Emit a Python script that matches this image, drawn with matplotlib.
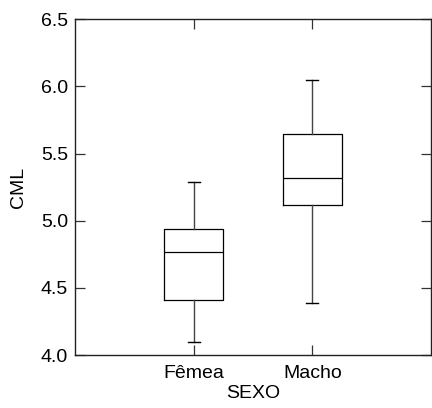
import matplotlib
matplotlib.use("Agg")
import matplotlib.pyplot as plt

plt.rcParams['font.family'] = ['Liberation Sans', 'DejaVu Sans']

# CML summary per sex
categories = ["Fêmea", "Macho"]
whisker_low = [4.10, 4.39]
q1 = [4.41, 5.12]
median = [4.77, 5.32]
q3 = [4.94, 5.645]
whisker_high = [5.285, 6.05]
y_ticks = [4.0, 4.5, 5.0, 5.5, 6.0, 6.5]

stats = [
    dict(label=c, whislo=lo, q1=a, med=m, q3=b, whishi=hi, fliers=[])
    for c, lo, a, m, b, hi in zip(categories, whisker_low, q1, median, q3, whisker_high)
]

fig = plt.figure(figsize=(4.32, 4.08), dpi=100)
ax = fig.add_axes([75 / 432, 53 / 408, 356 / 432, 335.7 / 408])

positions = list(range(1, len(categories) + 1))
ax.bxp(
    stats, positions=positions, widths=0.5, capwidths=0.1, showfliers=False,
    boxprops=dict(color='black', linewidth=0.9),
    medianprops=dict(color='black', linewidth=0.9),
    whiskerprops=dict(color='#444444', linewidth=1.0),
    capprops=dict(color='black', linewidth=1.0),
)

ax.set_xlim(0, len(categories) + 1)
ax.set_ylim(4.0, 6.5)
ax.set_yticks(y_ticks)
ax.set_yticklabels([f"{v:.1f}" for v in y_ticks])
ax.set_xticks(positions)
ax.set_xticklabels(categories)

ax.tick_params(direction='in', length=7.5, width=0.9, top=True, right=True,
               labelsize=14, color='#333333')
ax.tick_params(axis='y', pad=5)
ax.tick_params(axis='x', pad=7)
for s in ax.spines.values():
    s.set_linewidth(1.0)
    s.set_color('#222222')

ax.set_xlabel("SEXO", fontsize=14, labelpad=2)
ax.set_ylabel("CML", fontsize=14, labelpad=10)

fig.savefig("out.png", dpi=100)
